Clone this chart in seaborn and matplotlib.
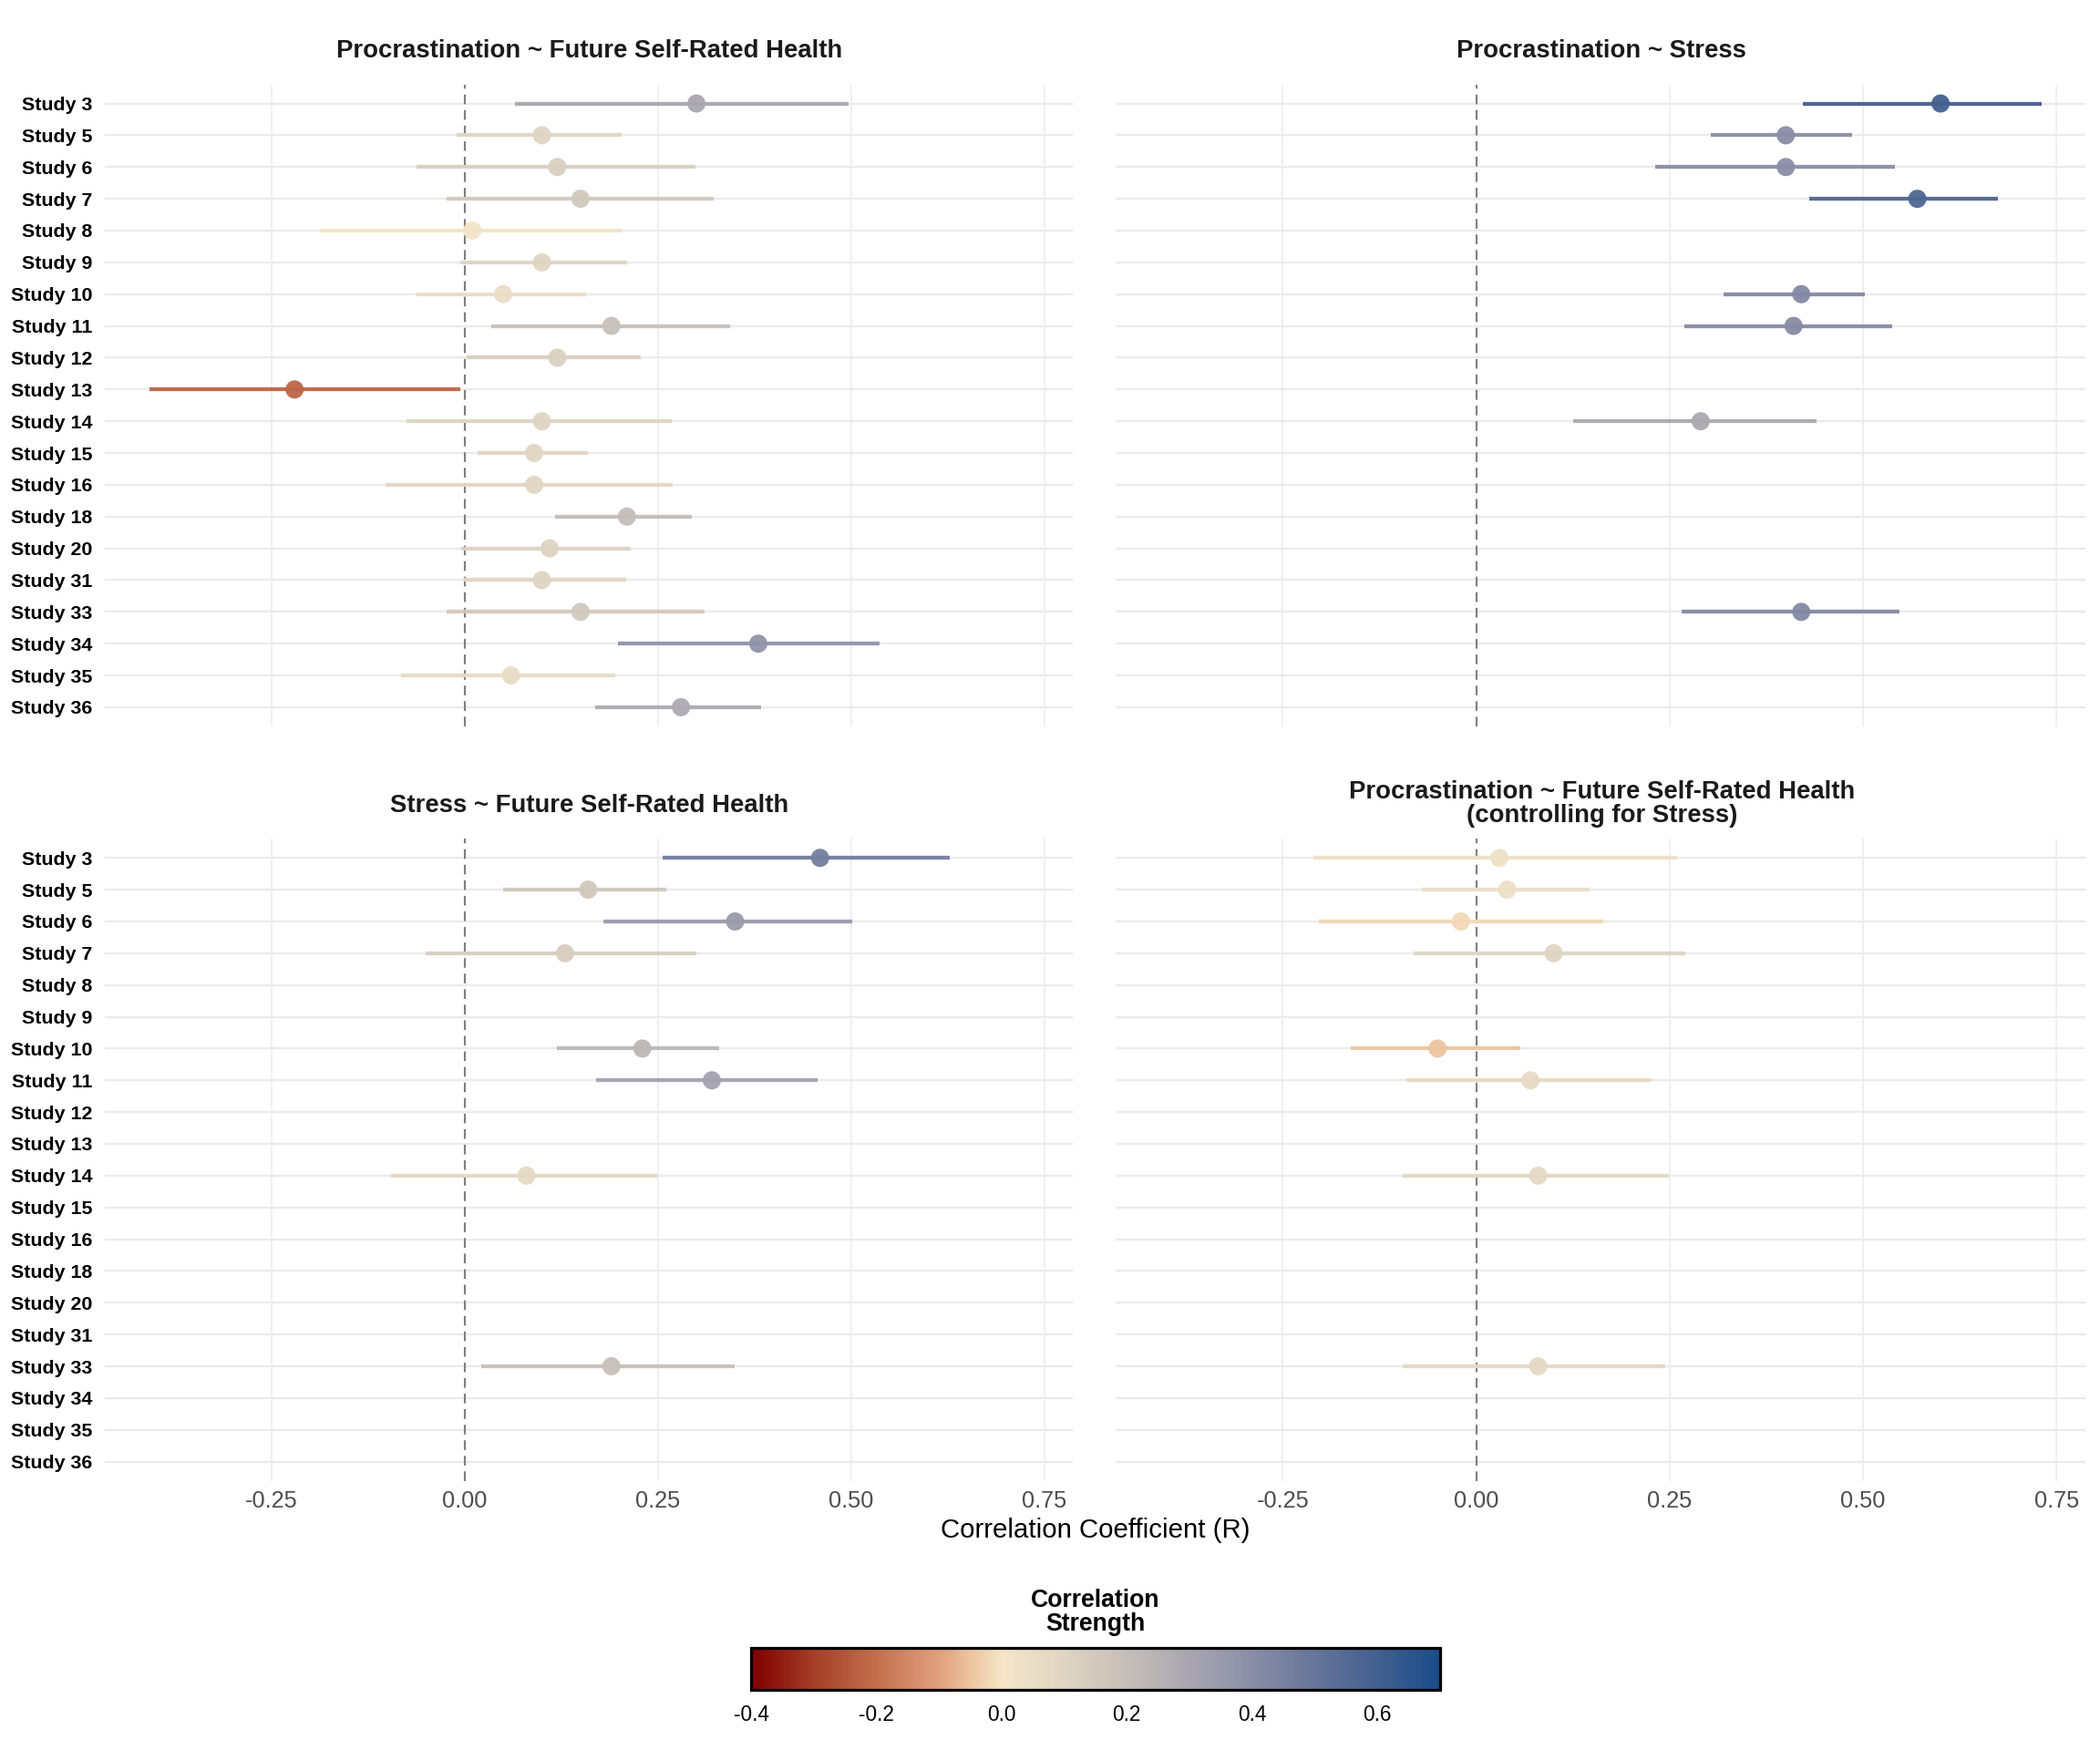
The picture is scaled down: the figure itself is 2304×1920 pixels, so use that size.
import numpy as np
import pandas as pd
import matplotlib
matplotlib.use("Agg")
import matplotlib.pyplot as plt
import seaborn as sns
from matplotlib.colors import LinearSegmentedColormap, Normalize
from matplotlib.cm import ScalarMappable

# ---------------- data ----------------
studies = ["Study 3", "Study 5", "Study 6", "Study 7", "Study 8", "Study 9", "Study 10",
           "Study 11", "Study 12", "Study 13", "Study 14", "Study 15", "Study 16", "Study 18",
           "Study 20", "Study 31", "Study 33", "Study 34", "Study 35", "Study 36"]

panel_titles = ["Procrastination ~ Future Self-Rated Health",
                "Procrastination ~ Stress",
                "Stress ~ Future Self-Rated Health",
                "Procrastination ~ Future Self-Rated Health\n(controlling for Stress)"]

nan = np.nan
# Panel 1: Procrastination ~ Future Self-Rated Health
p1_r  = [0.30, 0.10, 0.12, 0.15, 0.01, 0.10, 0.05, 0.19, 0.12, -0.22, 0.10, 0.09, 0.09, 0.21, 0.11, 0.10, 0.15, 0.38, 0.06, 0.28]
p1_lo = [0.065, -0.010, -0.062, -0.023, -0.187, -0.006, -0.062, 0.034, 0.003, -0.408, -0.075, 0.017, -0.102, 0.117, -0.004, -0.001, -0.023, 0.199, -0.082, 0.169]
p1_hi = [0.497, 0.203, 0.299, 0.322, 0.203, 0.210, 0.157, 0.344, 0.228, -0.005, 0.268, 0.160, 0.269, 0.294, 0.215, 0.209, 0.311, 0.537, 0.195, 0.384]

# Panel 2: Procrastination ~ Stress
p2_r  = [0.60, 0.40, 0.40, 0.57, nan, nan, 0.42, 0.41, nan, nan, 0.29, nan, nan, nan, nan, nan, 0.42, nan, nan, nan]
p2_lo = [0.422, 0.303, 0.231, 0.430, nan, nan, 0.320, 0.269, nan, nan, 0.125, nan, nan, nan, nan, nan, 0.266, nan, nan, nan]
p2_hi = [0.731, 0.486, 0.541, 0.674, nan, nan, 0.502, 0.538, nan, nan, 0.440, nan, nan, nan, nan, nan, 0.547, nan, nan, nan]

# Panel 3: Stress ~ Future Self-Rated Health
p3_r  = [0.46, 0.16, 0.35, 0.13, nan, nan, 0.23, 0.32, nan, nan, 0.08, nan, nan, nan, nan, nan, 0.19, nan, nan, nan]
p3_lo = [0.256, 0.050, 0.180, -0.050, nan, nan, 0.119, 0.170, nan, nan, -0.095, nan, nan, nan, nan, nan, 0.021, nan, nan, nan]
p3_hi = [0.628, 0.261, 0.502, 0.300, nan, nan, 0.329, 0.457, nan, nan, 0.249, nan, nan, nan, nan, nan, 0.349, nan, nan, nan]

# Panel 4: Procrastination ~ Future Self-Rated Health (controlling for Stress)
p4_r  = [0.03, 0.04, -0.02, 0.10, nan, nan, -0.05, 0.07, nan, nan, 0.08, nan, nan, nan, nan, nan, 0.08, nan, nan, nan]
p4_lo = [-0.210, -0.070, -0.203, -0.081, nan, nan, -0.162, -0.090, nan, nan, -0.095, nan, nan, nan, nan, nan, -0.095, nan, nan, nan]
p4_hi = [0.259, 0.146, 0.164, 0.270, nan, nan, 0.057, 0.227, nan, nan, 0.249, nan, nan, nan, nan, nan, 0.244, nan, nan, nan]

x_ticks = [-0.25, 0.00, 0.25, 0.50, 0.75]
x_ticklabels = ["-0.25", "0.00", "0.25", "0.50", "0.75"]
cbar_ticks = [-0.4, -0.2, 0.0, 0.2, 0.4, 0.6]
cbar_ticklabels = ["-0.4", "-0.2", "0.0", "0.2", "0.4", "0.6"]
c_min, c_max = -0.4, 0.7

# ---------------- style ----------------
sns.set_theme(style="white")
plt.rcParams["font.family"] = ["Liberation Sans", "DejaVu Sans"]
plt.rcParams["axes.unicode_minus"] = False

stops = [(-0.4, "#800000"), (-0.3, "#A43F28"), (-0.2, "#C4704F"), (-0.1, "#E0A07F"),
         (-0.05, "#EDC4A0"), (0.0, "#F5E6C8"), (0.1, "#DFD5C3"), (0.2, "#C6BEB9"),
         (0.3, "#A9A6B0"), (0.4, "#8A8EA7"), (0.5, "#677599"), (0.6, "#44608F"),
         (0.7, "#1A4C88")]
cmap = LinearSegmentedColormap.from_list(
    "corr", [((v - c_min) / (c_max - c_min), c) for v, c in stops])
norm = Normalize(vmin=c_min, vmax=c_max)

frames = []
for title, r, lo, hi in zip(panel_titles, [p1_r, p2_r, p3_r, p4_r],
                            [p1_lo, p2_lo, p3_lo, p4_lo], [p1_hi, p2_hi, p3_hi, p4_hi]):
    frames.append(pd.DataFrame({"panel": title, "study": studies, "pos": np.arange(len(studies)),
                                "r": r, "lo": lo, "hi": hi}))
df = pd.concat(frames, ignore_index=True)

W, H = 1568.0, 1306.0  # layout reference units
fig = plt.figure(figsize=(12, 10), dpi=192)

def rect(x0, x1, y0, y1):
    return [x0 / W, 1 - y1 / H, (x1 - x0) / W, (y1 - y0) / H]

rects = [rect(78, 801, 63, 542), rect(833, 1557, 63, 542),
         rect(78, 801, 626, 1105), rect(833, 1557, 626, 1105)]
title_pos = [(440, 38), (1196, 38), (440, 601), (1196, 600)]

xlim = (-0.466, 0.787)
for i, (title, rc, tp) in enumerate(zip(panel_titles, rects, title_pos)):
    ax = fig.add_axes(rc)
    d = df[df["panel"] == title].dropna(subset=["r"])
    ax.set_axisbelow(True)
    for yy in range(len(studies)):
        ax.axhline(yy, color="#EBEBEB", lw=0.9, zorder=0)
    for xx in x_ticks:
        if xx != 0:
            ax.axvline(xx, color="#EDEDED", lw=0.6, zorder=0)
    ax.axvline(0, color="#7F7F7F", lw=0.8, ls=(0, (5, 3)), zorder=1)
    ax.hlines(d["pos"], d["lo"], d["hi"], colors=cmap(norm(d["r"].values)),
              lw=1.6, alpha=0.95, zorder=2)
    sns.scatterplot(data=d, x="r", y="pos", hue="r", palette=cmap, hue_norm=norm,
                    s=56, edgecolor="none", linewidth=0, alpha=0.95, legend=False,
                    ax=ax, zorder=3)
    ax.set_xlim(xlim)
    ax.set_ylim(len(studies) - 0.4, -0.6)
    ax.set_yticks(range(len(studies)))
    ax.set_xticks(x_ticks)
    for s in ax.spines.values():
        s.set_visible(False)
    ax.set_xlabel("")
    ax.set_ylabel("")
    ax.tick_params(axis="both", length=0)
    if i in (0, 2):
        ax.set_yticklabels(studies, fontsize=8, fontweight="bold", color="black")
        ax.tick_params(axis="y", pad=5)
    else:
        ax.set_yticklabels([])
    if i in (2, 3):
        ax.set_xticklabels(x_ticklabels, fontsize=9.5, color="#4D4D4D")
        ax.tick_params(axis="x", pad=4)
    else:
        ax.set_xticklabels([])
    fig.text(tp[0] / W, 1 - tp[1] / H, title, ha="center", va="center",
             fontsize=10.3, fontweight="bold", color="#1A1A1A", linespacing=1.0)

fig.text(818 / W, 1 - 1142 / H, "Correlation Coefficient (R)", ha="center", va="center",
         fontsize=11, color="black")

# colorbar
cax = fig.add_axes(rect(561, 1075, 1230, 1261))
sm = ScalarMappable(norm=norm, cmap=cmap)
cb = fig.colorbar(sm, cax=cax, orientation="horizontal")
cb.set_ticks(cbar_ticks)
cb.set_ticklabels(cbar_ticklabels)
cb.outline.set_edgecolor("black")
cb.outline.set_linewidth(1.2)
cax.tick_params(axis="x", which="both", direction="in", color="white", width=0.8,
                length=3.2, top=True, bottom=True, labeltop=False, labelbottom=True,
                labelsize=8.5, labelcolor="black", pad=6)
fig.text(818 / W, 1 - 1203 / H, "Correlation\nStrength", ha="center", va="center",
         fontsize=10, fontweight="bold", color="black", linespacing=1.0)

fig.savefig("out.png", dpi=192, facecolor="white")
